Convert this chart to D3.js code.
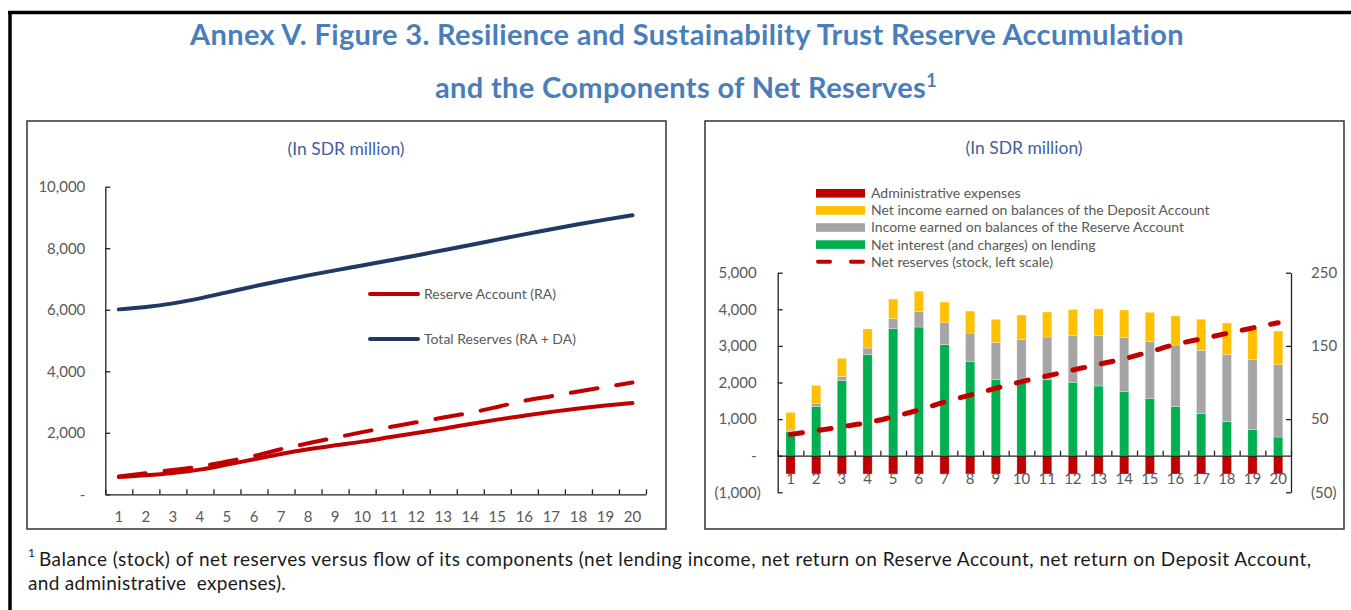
<!DOCTYPE html>
<html>
<head>
<meta charset="utf-8">
<script src="https://cdn.jsdelivr.net/npm/d3@7"></script>
<style>
  body { margin: 0; background: #fff; }
  svg { font-family: Lato, "Open Sans", sans-serif; }
</style>
</head>
<body>
<div id="viz"></div>
<script>
// categories (years 1..20)
var years = [1, 2, 3, 4, 5, 6, 7, 8, 9, 10, 11, 12, 13, 14, 15, 16, 17, 18, 19, 20];

// left panel, SDR million (stock)
var reserveAccount = [563, 617, 693, 802, 964, 1137, 1311, 1462, 1592, 1712, 1852, 1993, 2134, 2286, 2427, 2557, 2680, 2790, 2885, 2965];
var totalReserves = [6012, 6088, 6207, 6370, 6565, 6760, 6944, 7117, 7280, 7440, 7600, 7765, 7935, 8105, 8280, 8450, 8615, 8780, 8930, 9070];
var netReserves = [583, 683, 792, 902, 1066, 1248, 1466, 1657, 1840, 2022, 2180, 2340, 2495, 2650, 2840, 3042, 3190, 3342, 3490, 3634];

// right panel, SDR million (flows, right scale)
var lending = [32.8, 67, 102.5, 138, 173.5, 175.8, 151.7, 128.4, 104.3, 104.3, 103.8, 100.2, 95.2, 87.4, 77.9, 67, 57.4, 46.5, 35.5, 25.5];
var reserveIncome = [2.2, 4.1, 5.5, 9.1, 14.1, 21, 30, 39.2, 50.1, 54.2, 58.3, 63.8, 68.8, 73.8, 78.4, 84.2, 86.6, 91.5, 95.7, 98.8];
var depositIncome = [24.2, 25, 25, 26, 26.4, 27.8, 28.2, 30, 31.9, 33.7, 34.2, 35.6, 36.5, 37.8, 39.6, 39.7, 42.4, 43.3, 44.6, 46];
var adminExpenses = [-25, -25, -25, -25, -25, -25, -25, -25, -25, -25, -25, -25, -25, -25, -25, -25, -25, -25, -25, -25];

// tick labels
var leftTicks = [0, 2000, 4000, 6000, 8000, 10000];
var barLeftTicks = [-1000, 0, 1000, 2000, 3000, 4000, 5000];
var barRightTicks = [-50, 50, 150, 250];

var keys = ['lending', 'reserve', 'deposit', 'admin'];
var colors = {lending: '#00B050', reserve: '#A5A5A5', deposit: '#FFC000', admin: '#C00000'};

var table = years.map((y, i) => ({
  year: y,
  lending: lending[i],
  reserve: reserveIncome[i],
  deposit: depositIncome[i],
  admin: adminExpenses[i]
}));

var acct = d => d === 0 ? '-' : d < 0 ? '(' + d3.format(',')(-d) + ')' : d3.format(',')(d);

var svg = d3.select('#viz').append('svg')
  .attr('width', 1351)
  .attr('height', 610);

svg.append('rect').attr('width', 1351).attr('height', 610).attr('fill', '#fff');

// outer frame
svg.append('line').attr('x1', 8).attr('x2', 1351).attr('y1', 12.5).attr('y2', 12.5)
  .attr('stroke', '#000').attr('stroke-width', 3.5);
svg.append('line').attr('x1', 10).attr('x2', 10).attr('y1', 11).attr('y2', 610)
  .attr('stroke', '#000').attr('stroke-width', 3.5);

// title
var title = svg.append('g')
  .attr('fill', '#4A7EBB')
  .attr('font-weight', 700)
  .attr('font-size', 29)
  .attr('letter-spacing', 0.35)
  .attr('text-anchor', 'middle');
title.append('text').attr('x', 687).attr('y', 45)
  .text('Annex V. Figure 3. Resilience and Sustainability Trust Reserve Accumulation');
var t2 = title.append('text').attr('x', 686).attr('y', 98);
t2.append('tspan').text('and the Components of Net Reserves');
t2.append('tspan').attr('font-size', 18).attr('dy', -11).text('1');

// panels
svg.append('rect').attr('x', 27).attr('y', 121).attr('width', 639).attr('height', 408)
  .attr('fill', 'none').attr('stroke', '#333').attr('stroke-width', 1.5);
svg.append('rect').attr('x', 705).attr('y', 121).attr('width', 639).attr('height', 408)
  .attr('fill', 'none').attr('stroke', '#333').attr('stroke-width', 1.5);

svg.append('text').attr('x', 346).attr('y', 149).attr('dy', '0.35em')
  .attr('text-anchor', 'middle').attr('font-size', 17.5).attr('fill', '#3F5F9F')
  .text('(In SDR million)');
svg.append('text').attr('x', 1024).attr('y', 148).attr('dy', '0.35em')
  .attr('text-anchor', 'middle').attr('font-size', 17.5).attr('fill', '#3F5F9F')
  .text('(In SDR million)');

function styleAxis(g) {
  g.selectAll('path, line').attr('stroke', '#222').attr('stroke-width', 1.3);
  g.selectAll('text').attr('fill', '#595959').attr('font-size', 15).attr('font-family', 'Lato, sans-serif');
}

/* ---------- left chart ---------- */
var xL = d3.scaleBand().domain(years).range([105.3, 646]);
var xLb = d3.scaleLinear().domain([0, 20]).range([105.3, 646]);
var yL = d3.scaleLinear().domain([0, 10000]).range([494.3, 186.7]);
var cxL = d => xL(d) + xL.bandwidth() / 2;

svg.append('g').attr('transform', 'translate(105.3,0)')
  .call(d3.axisLeft(yL).tickValues(leftTicks).tickSize(-5).tickSizeOuter(0).tickPadding(20).tickFormat(acct))
  .call(styleAxis);

svg.append('g').attr('transform', 'translate(0,494.3)')
  .call(d3.axisBottom(xLb).ticks(20).tickSize(-5).tickSizeOuter(0).tickFormat(''))
  .call(styleAxis);
svg.append('g').attr('transform', 'translate(0,494.3)')
  .call(d3.axisBottom(xL).tickSize(0).tickPadding(17))
  .call(styleAxis)
  .call(g => g.select('.domain').remove());

var lineL = d3.line().x((d, i) => cxL(years[i])).y(d => yL(d)).curve(d3.curveMonotoneX);

svg.append('path').datum(netReserves).attr('d', lineL)
  .attr('fill', 'none').attr('stroke', '#C00000').attr('stroke-width', 4)
  .attr('stroke-dasharray', '27,19').attr('stroke-linecap', 'round');
svg.append('path').datum(reserveAccount).attr('d', lineL)
  .attr('fill', 'none').attr('stroke', '#C00000').attr('stroke-width', 4).attr('stroke-linecap', 'round');
svg.append('path').datum(totalReserves).attr('d', lineL)
  .attr('fill', 'none').attr('stroke', '#203864').attr('stroke-width', 4).attr('stroke-linecap', 'round');

var legL = [
  {label: 'Reserve Account (RA)', color: '#C00000', y: 294},
  {label: 'Total Reserves (RA + DA)', color: '#203864', y: 339}
];
var legLg = svg.append('g').selectAll('g').data(legL).enter().append('g');
legLg.append('line').attr('x1', 370).attr('x2', 418).attr('y1', d => d.y).attr('y2', d => d.y)
  .attr('stroke', d => d.color).attr('stroke-width', 4).attr('stroke-linecap', 'round');
legLg.append('text').attr('x', 424).attr('y', d => d.y).attr('dy', '0.35em')
  .attr('font-size', 14).attr('fill', '#595959').text(d => d.label);

/* ---------- right chart ---------- */
var xR = d3.scaleBand().domain(years).range([777.7, 1291]).paddingInner(0.64).paddingOuter(0.32);
var xRb = d3.scaleLinear().domain([0, 20]).range([777.7, 1291]);
var yRL = d3.scaleLinear().domain([-1000, 5000]).range([492.3, 272.7]);
var yRR = d3.scaleLinear().domain([-50, 250]).range([492.3, 272.7]);

var series = d3.stack().keys(keys).offset(d3.stackOffsetDiverging)(table);

svg.append('g').selectAll('g').data(series).enter().append('g')
  .attr('fill', d => colors[d.key])
  .selectAll('rect').data(d => d).enter().append('rect')
  .attr('x', d => xR(d.data.year))
  .attr('y', d => yRR(d[1]))
  .attr('width', xR.bandwidth())
  .attr('height', d => yRR(d[0]) - yRR(d[1]))
  .attr('stroke', '#fff').attr('stroke-opacity', 0.45).attr('stroke-width', 0.6);

svg.append('g').attr('transform', 'translate(777.7,0)')
  .call(d3.axisLeft(yRL).tickValues(barLeftTicks).tickSize(-5).tickSizeOuter(0).tickPadding(21).tickFormat(acct))
  .call(styleAxis)
  .call(g => g.selectAll('.tick text').filter(d => d < 0).attr('x', -17));

svg.append('g').attr('transform', 'translate(1291,0)')
  .call(d3.axisRight(yRR).tickValues(barRightTicks).tickSize(-5).tickSizeOuter(0).tickPadding(20).tickFormat(acct))
  .call(styleAxis);

svg.append('g').attr('transform', 'translate(0,' + yRL(0) + ')')
  .call(d3.axisBottom(xRb).ticks(20).tickSize(-5).tickSizeOuter(0).tickFormat(''))
  .call(styleAxis);
svg.append('g').attr('transform', 'translate(0,' + yRL(0) + ')')
  .call(d3.axisBottom(xR).tickSize(0).tickPadding(18))
  .call(styleAxis)
  .call(g => g.select('.domain').remove());

var lineR = d3.line().x((d, i) => xR(years[i]) + xR.bandwidth() / 2).y(d => yRL(d)).curve(d3.curveMonotoneX);
svg.append('path').datum(netReserves).attr('d', lineR)
  .attr('fill', 'none').attr('stroke', '#C00000').attr('stroke-width', 5)
  .attr('stroke-dasharray', '12,17').attr('stroke-linecap', 'round');

var legR = [
  {label: 'Administrative expenses', key: 'admin'},
  {label: 'Net income earned on balances of the Deposit Account', key: 'deposit'},
  {label: 'Income earned on balances of the Reserve Account', key: 'reserve'},
  {label: 'Net interest (and charges) on lending', key: 'lending'},
  {label: 'Net reserves (stock, left scale)', key: 'net'}
];
var legRg = svg.append('g').selectAll('g').data(legR).enter().append('g')
  .attr('transform', (d, i) => 'translate(0,' + (193.3 + i * 17.1) + ')');
legRg.filter(d => d.key !== 'net').append('rect')
  .attr('x', 816).attr('y', -4.3).attr('width', 49).attr('height', 8.6)
  .attr('fill', d => colors[d.key]);
legRg.filter(d => d.key === 'net').append('line')
  .attr('x1', 818).attr('x2', 863).attr('y1', 0).attr('y2', 0)
  .attr('stroke', '#C00000').attr('stroke-width', 4)
  .attr('stroke-dasharray', '12,21').attr('stroke-linecap', 'round');
legRg.append('text').attr('x', 871).attr('dy', '0.35em')
  .attr('font-size', 14).attr('fill', '#595959').text(d => d.label);

// footnote
svg.append('text').attr('x', 28).attr('y', 557).attr('font-size', 12).attr('fill', '#1a1a1a').text('1');
svg.append('text').attr('x', 39).attr('y', 566).attr('font-size', 19).attr('fill', '#1a1a1a')
  .attr('textLength', 1272).attr('lengthAdjust', 'spacing')
  .text('Balance (stock) of net reserves versus flow of its components (net lending income, net return on Reserve Account, net return on Deposit Account,');
svg.append('text').attr('x', 28).attr('y', 590).attr('font-size', 19).attr('letter-spacing', 0.3).attr('fill', '#1a1a1a')
  .text('and administrative  expenses).').style('white-space', 'pre');
</script>
</body>
</html>
